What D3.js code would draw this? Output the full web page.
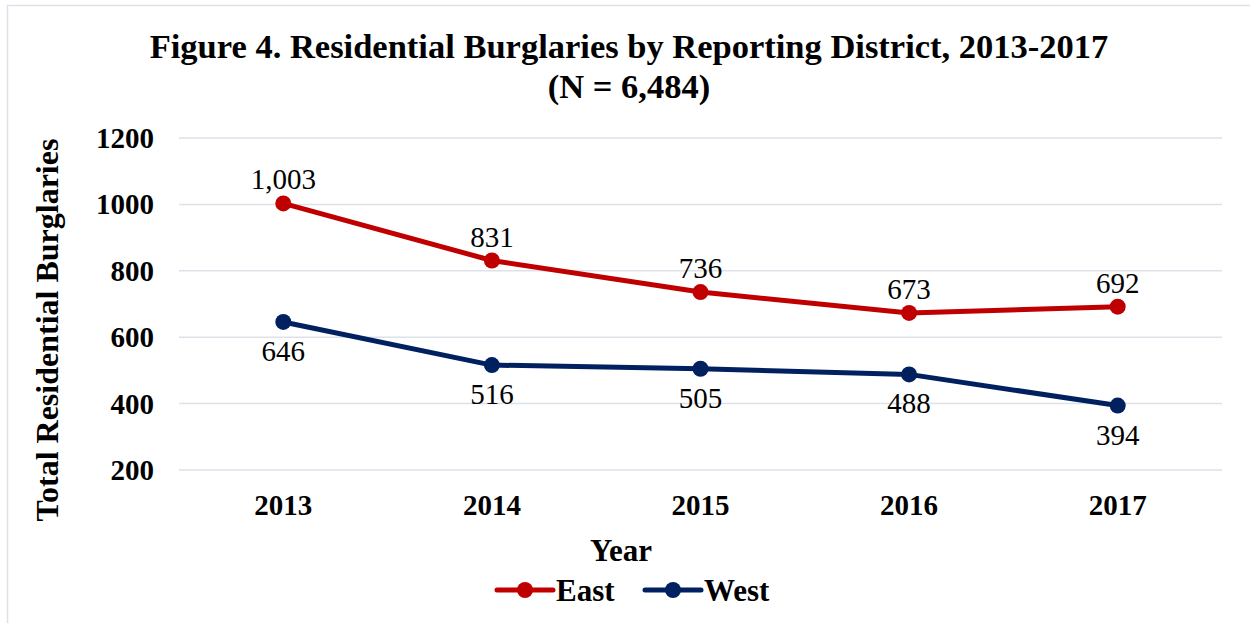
<!DOCTYPE html>
<html>
<head>
<meta charset="utf-8">
<script src="https://cdn.jsdelivr.net/npm/d3@7"></script>
<style>
  body { margin: 0; background: #fff; }
  text { font-family: "Liberation Serif", "Times New Roman", serif; }
</style>
</head>
<body>
<svg id="chart" width="1250" height="623"></svg>
<script>
// data
const years = ["2013", "2014", "2015", "2016", "2017"];
const east = [1003, 831, 736, 673, 692];
const west = [646, 516, 505, 488, 394];
const yTicks = [200, 400, 600, 800, 1000, 1200];

const svg = d3.select("#chart");

// outer border
svg.append("rect")
  .attr("x", 7.5).attr("y", 5.5)
  .attr("width", 1260).attr("height", 640)
  .attr("fill", "none")
  .attr("stroke", "#dde2ea")
  .attr("stroke-width", 1.5);

const x = d3.scaleBand().domain(years).range([179, 1222]);
const y = d3.scaleLinear().domain([200, 1200]).range([470, 138]);

// gridlines
svg.append("g")
  .selectAll("line")
  .data(yTicks)
  .enter().append("line")
  .attr("x1", 179).attr("x2", 1222)
  .attr("y1", d => y(d)).attr("y2", d => y(d))
  .attr("stroke", "#dde2ea")
  .attr("stroke-width", 1.5);

// y tick labels
svg.append("g")
  .selectAll("text")
  .data(yTicks)
  .enter().append("text")
  .attr("x", 154)
  .attr("y", d => y(d) + 10)
  .attr("text-anchor", "end")
  .attr("font-size", 29)
  .attr("font-weight", "bold")
  .text(d => d);

// x tick labels
svg.append("g")
  .selectAll("text")
  .data(years)
  .enter().append("text")
  .attr("x", d => x(d) + x.bandwidth() / 2)
  .attr("y", 515)
  .attr("text-anchor", "middle")
  .attr("font-size", 29)
  .attr("font-weight", "bold")
  .text(d => d);

// title
svg.append("text")
  .attr("x", 629).attr("y", 58)
  .attr("text-anchor", "middle")
  .attr("font-size", 34.5)
  .attr("font-weight", "bold")
  .text("Figure 4. Residential Burglaries by Reporting District, 2013-2017");
svg.append("text")
  .attr("x", 629).attr("y", 98)
  .attr("text-anchor", "middle")
  .attr("font-size", 34.5)
  .attr("font-weight", "bold")
  .text("(N = 6,484)");

// axis titles
svg.append("text")
  .attr("transform", "translate(58,330) rotate(-90)")
  .attr("text-anchor", "middle")
  .attr("font-size", 32)
  .attr("font-weight", "bold")
  .text("Total Residential Burglaries");
svg.append("text")
  .attr("x", 621).attr("y", 561)
  .attr("text-anchor", "middle")
  .attr("font-size", 31)
  .attr("font-weight", "bold")
  .text("Year");

const series = [
  { name: "East", values: east, color: "#c00000", dy: -14 },
  { name: "West", values: west, color: "#002060", dy: 39 }
];

const line = d3.line()
  .x((d, i) => x(years[i]) + x.bandwidth() / 2)
  .y(d => y(d));

const fmt = d3.format(",");

series.forEach(s => {
  svg.append("path")
    .datum(s.values)
    .attr("d", line)
    .attr("fill", "none")
    .attr("stroke", s.color)
    .attr("stroke-width", 5)
    .attr("stroke-linejoin", "round");

  svg.append("g")
    .selectAll("circle")
    .data(s.values)
    .enter().append("circle")
    .attr("cx", (d, i) => x(years[i]) + x.bandwidth() / 2)
    .attr("cy", d => y(d))
    .attr("r", 8)
    .attr("fill", s.color);

  svg.append("g")
    .selectAll("text")
    .data(s.values)
    .enter().append("text")
    .attr("x", (d, i) => x(years[i]) + x.bandwidth() / 2)
    .attr("y", d => y(d) + s.dy)
    .attr("text-anchor", "middle")
    .attr("font-size", 29)
    .attr("fill", "#000")
    .text(d => fmt(d));
});

// legend
const legend = svg.append("g");
const legendPos = [497, 645];
series.forEach((s, i) => {
  const lx = legendPos[i];
  const ly = 590;
  legend.append("line")
    .attr("x1", lx).attr("x2", lx + 56)
    .attr("y1", ly).attr("y2", ly)
    .attr("stroke", s.color)
    .attr("stroke-width", 5)
    .attr("stroke-linecap", "round");
  legend.append("circle")
    .attr("cx", lx + 28).attr("cy", ly)
    .attr("r", 8)
    .attr("fill", s.color);
  legend.append("text")
    .attr("x", lx + 59).attr("y", ly + 11)
    .attr("font-size", 31)
    .attr("font-weight", "bold")
    .text(s.name);
});
</script>
</body>
</html>
